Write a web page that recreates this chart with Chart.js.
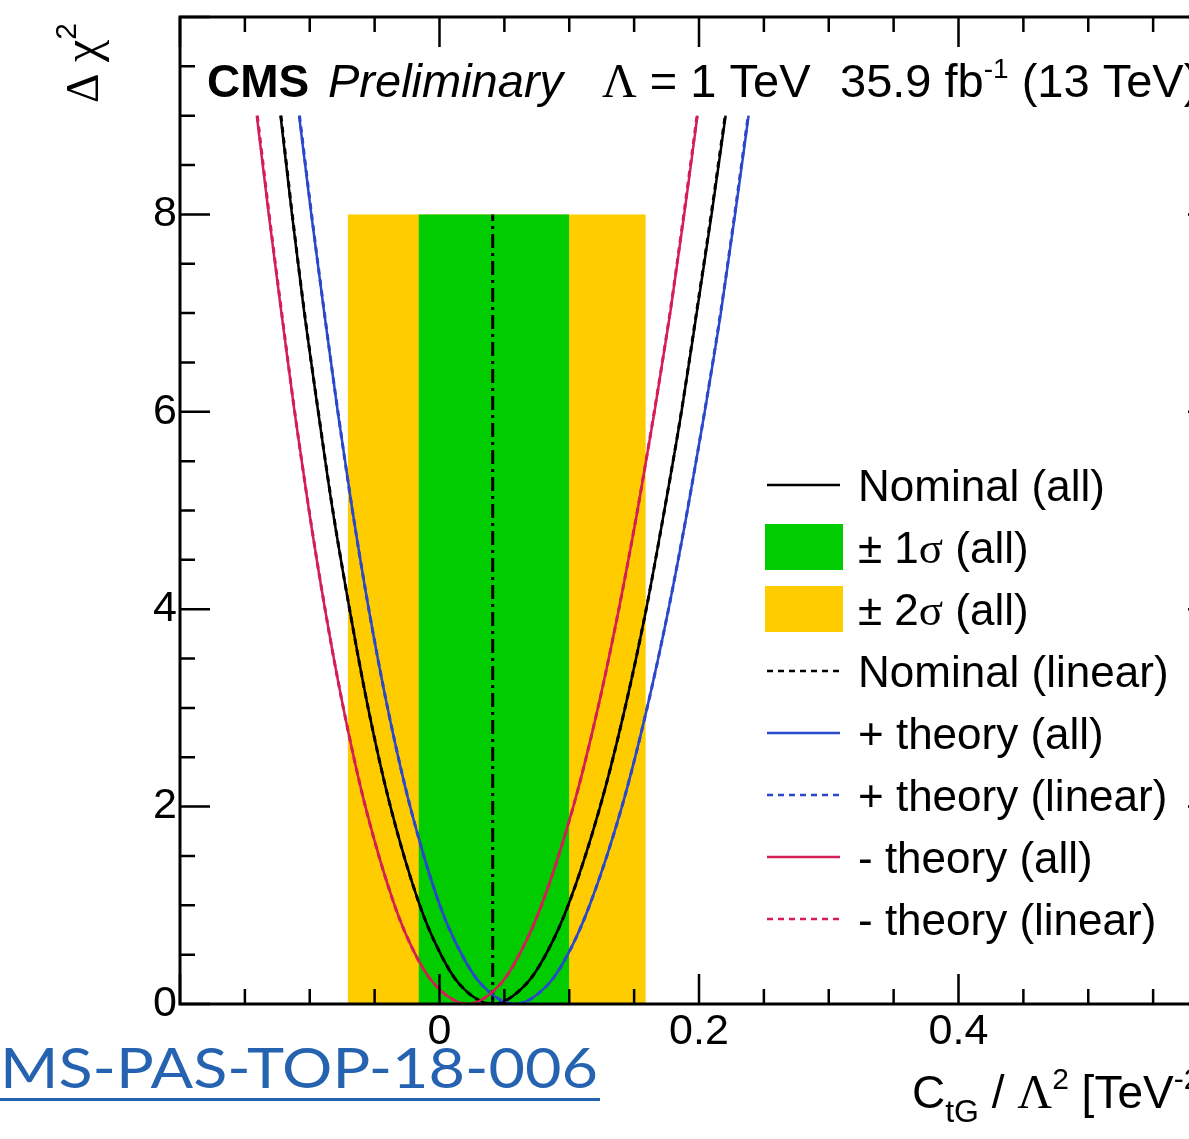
<!DOCTYPE html>
<html>
<head>
<meta charset="utf-8">
<script src="https://cdn.jsdelivr.net/npm/chart.js@4.4.1/dist/chart.umd.min.js"></script>
<style>
  html, body { margin: 0; padding: 0; background: #fff; overflow: hidden; }
  canvas { display: block; }
</style>
</head>
<body>
<canvas id="chart" width="1240" height="1139"></canvas>
<script>
// delta chi2 levels along each curve (left branch down to the minimum, then right branch up)
const dchi2 = [9, 8, 7, 6, 5, 4, 3, 2, 1, 0.5, 0.2, 0, 0.2, 0.5, 1, 2, 3, 4, 5, 6, 7, 8, 9];

// C_tG / Lambda^2 positions, one per dchi2 level
const nominalAll = [-0.1225, -0.1137, -0.1042, -0.0935, -0.0823, -0.0693, -0.055, -0.0378, -0.0152, 0.0011, 0.0154, 0.041,
  0.0666, 0.0819, 0.0992, 0.1238, 0.143, 0.1593, 0.1733, 0.1865, 0.1982, 0.2097, 0.2205];
const nominalLinear = [-0.1222, -0.1135, -0.1040, -0.0934, -0.0822, -0.0693, -0.055, -0.0378, -0.0152, 0.0011, 0.0154, 0.041,
  0.0666, 0.0819, 0.0992, 0.1238, 0.143, 0.1593, 0.1733, 0.1864, 0.1980, 0.2094, 0.2202];
const plusTheoryAll = [-0.1082, -0.0988, -0.0888, -0.0784, -0.0671, -0.0545, -0.040, -0.0226, 0.0003, 0.0172, 0.0322, 0.058,
  0.0838, 0.0988, 0.1157, 0.1406, 0.160, 0.1765, 0.1911, 0.2044, 0.2168, 0.2278, 0.2382];
const plusTheoryLinear = [-0.1079, -0.0986, -0.0887, -0.0783, -0.0671, -0.0545, -0.040, -0.0226, 0.0003, 0.0172, 0.0322, 0.058,
  0.0838, 0.0988, 0.1157, 0.1406, 0.160, 0.1765, 0.1910, 0.2043, 0.2166, 0.2275, 0.2379];
const minusTheoryAll = [-0.1408, -0.1316, -0.1218, -0.1117, -0.1006, -0.0882, -0.0741, -0.0571, -0.0346, -0.0185, -0.0038, 0.0215,
  0.0468, 0.0615, 0.0786, 0.1031, 0.1221, 0.1382, 0.1526, 0.1657, 0.1778, 0.1886, 0.1988];
const minusTheoryLinear = [-0.1404, -0.1313, -0.1216, -0.1116, -0.1005, -0.0882, -0.0741, -0.0571, -0.0346, -0.0185, -0.0038, 0.0215,
  0.0468, 0.0615, 0.0786, 0.1031, 0.1221, 0.1382, 0.1525, 0.1655, 0.1776, 0.1883, 0.1985];

// intervals and best fit
const sigma1 = [-0.0162, 0.100];
const sigma2 = [-0.0708, 0.159];
const bandTop = 8;
const bestFit = 0.041;

const legendLabels = ["Nominal (all)", "± 1σ (all)", "± 2σ (all)", "Nominal (linear)",
  "+ theory (all)", "+ theory (linear)", "- theory (all)", "- theory (linear)"];

const xRange = [-0.2, 0.6];
const yRange = [0, 10];

const SANS = '"Liberation Sans", Arial, sans-serif';
const SERIF = '"Liberation Serif", "Times New Roman", serif';
const GREEN = "#00cc00";
const YELLOW = "#ffcc00";
const RED = "#d41e55";
const BLUE = "#2a48cc";

function pts(xs) {
    return xs.map((x, i) => ({ x: x, y: dchi2[i] }));
}
function band(r) {
    return [{ x: r[0], y: 0 }, { x: r[0], y: bandTop }, { x: r[1], y: bandTop }, { x: r[1], y: 0 }];
}
function curve(label, xs, color, dashed, order) {
    return {
        label: label,
        data: pts(xs),
        borderColor: color,
        borderWidth: dashed ? 3 : 2.5,
        borderDash: dashed ? [6, 5] : [],
        cubicInterpolationMode: "monotone",
        fill: false,
        order: order
    };
}

// draws text, greek letters in a serif face like ROOT does
function drawRuns(ctx, x, y, parts) {
    for (const p of parts) {
        ctx.font = p.font;
        ctx.fillText(p.t, x, y + (p.dy || 0));
        x += ctx.measureText(p.t).width;
    }
    return x;
}
function mixed(text, size) {
    const parts = [];
    for (const ch of text) {
        const greek = /[\u0370-\u03ff]/.test(ch);
        const font = (greek ? size + 1 + "px " + SERIF : size + "px " + SANS);
        if (parts.length && parts[parts.length - 1].font === font) parts[parts.length - 1].t += ch;
        else parts.push({ t: ch, font: font });
    }
    return parts;
}

const decorations = {
    id: "decorations",
    afterDatasetsDraw(chart) {
        const ctx = chart.ctx;
        const a = chart.chartArea;
        const xs = chart.scales.x, ys = chart.scales.y;
        ctx.save();
        ctx.strokeStyle = "#000";
        ctx.lineWidth = 2.5;
        ctx.beginPath();
        xs.ticks.forEach(t => {
            const px = xs.getPixelForValue(t.value);
            const major = Math.abs(Math.round(t.value * 100)) % 20 === 0;
            const len = major ? 30 : 15;
            ctx.moveTo(px, a.bottom); ctx.lineTo(px, a.bottom - len);
            ctx.moveTo(px, a.top); ctx.lineTo(px, a.top + len);
        });
        ys.ticks.forEach(t => {
            const py = ys.getPixelForValue(t.value);
            const major = Math.round(t.value * 10) % 20 === 0;
            const len = major ? 30 : 15;
            ctx.moveTo(a.left, py); ctx.lineTo(a.left + len, py);
            ctx.moveTo(a.right, py); ctx.lineTo(a.right - len, py);
        });
        ctx.stroke();
        ctx.lineWidth = 3;
        ctx.strokeRect(a.left, a.top, a.right - a.left, a.bottom - a.top);
        ctx.restore();
    },
    afterDraw(chart) {
        const ctx = chart.ctx;
        ctx.save();
        ctx.fillStyle = "#000";
        ctx.textBaseline = "alphabetic";

        // header
        drawRuns(ctx, 207, 97, [{ t: "CMS", font: "bold 46px " + SANS }]);
        drawRuns(ctx, 328, 97, [{ t: "Preliminary", font: "italic 47px " + SANS }]);
        drawRuns(ctx, 602, 97, [{ t: "Λ", font: "48px " + SERIF }, { t: " = 1 TeV", font: "47px " + SANS }]);
        drawRuns(ctx, 840, 97, [
            { t: "35.9 fb", font: "47px " + SANS },
            { t: "-1", font: "28px " + SANS, dy: -19 },
            { t: " (13 TeV)", font: "47px " + SANS }
        ]);

        // x title
        drawRuns(ctx, 912, 1108, [
            { t: "C", font: "46px " + SANS },
            { t: "tG", font: "32px " + SANS, dy: 14 },
            { t: " / ", font: "46px " + SANS },
            { t: "Λ", font: "48px " + SERIF },
            { t: "2", font: "30px " + SANS, dy: -19 },
            { t: " [TeV", font: "46px " + SANS },
            { t: "-2", font: "30px " + SANS, dy: -19 },
            { t: "]", font: "46px " + SANS }
        ]);

        // y title
        ctx.save();
        ctx.translate(98, 103);
        ctx.rotate(-Math.PI / 2);
        drawRuns(ctx, 0, 0, [
            { t: "Δ ", font: "46px " + SERIF },
            { t: "χ", font: "50px " + SERIF },
            { t: "2", font: "30px " + SANS, dy: -22 }
        ]);
        ctx.restore();

        // legend
        const sym = [
            { kind: "line", color: "#000", dash: [] },
            { kind: "box", color: GREEN },
            { kind: "box", color: YELLOW },
            { kind: "line", color: "#000", dash: [6, 5] },
            { kind: "line", color: BLUE, dash: [] },
            { kind: "line", color: BLUE, dash: [6, 5] },
            { kind: "line", color: RED, dash: [] },
            { kind: "line", color: RED, dash: [6, 5] }
        ];
        legendLabels.forEach((lab, i) => {
            const y = 485 + i * 62;
            const s = sym[i];
            if (s.kind === "box") {
                ctx.fillStyle = s.color;
                ctx.fillRect(765, y - 23, 78, 46);
            } else {
                ctx.strokeStyle = s.color;
                ctx.lineWidth = 2.5;
                ctx.setLineDash(s.dash);
                ctx.beginPath();
                ctx.moveTo(767, y); ctx.lineTo(840, y);
                ctx.stroke();
                ctx.setLineDash([]);
            }
            ctx.fillStyle = "#000";
            drawRuns(ctx, 858, y + 16, mixed(lab, 44));
        });

        // document reference below the plot (cut at the left edge like the slide)
        const ref = "CMS-PAS-TOP-18-006";
        ctx.fillStyle = "#2563b0";
        ctx.font = "56px Lato, " + SANS;
        const k = 598 / ctx.measureText(ref.slice(1)).width;
        ctx.save();
        ctx.translate(598, 1088);
        ctx.scale(k, 1);
        ctx.textAlign = "right";
        ctx.fillText(ref, 0, 0);
        ctx.restore();
        ctx.fillRect(0, 1098, 600, 3);
        ctx.restore();
    }
};

const ctx = document.getElementById("chart").getContext("2d");
new Chart(ctx, {
    type: "line",
    data: {
        datasets: [
            { label: "±2σ", data: band(sigma2), backgroundColor: YELLOW, borderColor: "transparent", borderWidth: 0, fill: "origin", order: 100 },
            { label: "±1σ", data: band(sigma1), backgroundColor: GREEN, borderColor: "transparent", borderWidth: 0, fill: "origin", order: 90 },
            { label: "best fit", data: [{ x: bestFit, y: 0 }, { x: bestFit, y: bandTop }], borderColor: "#000", borderWidth: 3,
              borderDash: [14, 5, 3, 5], fill: false, order: 80 },
            curve("Nominal (all)", nominalAll, "#000", false, 20),
            curve("Nominal (linear)", nominalLinear, "#000", true, 19),
            curve("+ theory (all)", plusTheoryAll, BLUE, false, 18),
            curve("+ theory (linear)", plusTheoryLinear, BLUE, true, 17),
            curve("- theory (all)", minusTheoryAll, RED, false, 16),
            curve("- theory (linear)", minusTheoryLinear, RED, true, 15)
        ]
    },
    options: {
        responsive: false,
        animation: false,
        elements: { point: { radius: 0 } },
        layout: { padding: { left: 0, right: 22, top: 17, bottom: 0 } },
        plugins: { legend: { display: false }, tooltip: { enabled: false } },
        scales: {
            x: {
                type: "linear",
                min: xRange[0],
                max: xRange[1],
                grid: { display: false, drawTicks: false },
                border: { display: false },
                ticks: {
                    stepSize: 0.05,
                    autoSkip: false,
                    maxRotation: 0,
                    padding: 2,
                    color: "#000",
                    font: { family: SANS, size: 43 },
                    callback: v => {
                        const k = Math.round(v * 100);
                        return (k % 20 === 0 && k >= 0 && k < 60) ? String(k / 100) : "";
                    }
                },
                afterFit: s => { s.height = 135; s.paddingLeft = 0; s.paddingRight = 0; }
            },
            y: {
                min: yRange[0],
                max: yRange[1],
                grid: { display: false, drawTicks: false },
                border: { display: false },
                ticks: {
                    stepSize: 0.5,
                    autoSkip: false,
                    padding: 3,
                    color: "#000",
                    font: { family: SANS, size: 43 },
                    callback: v => (v % 2 === 0 && v < 10) ? String(v) : ""
                },
                afterFit: s => { s.width = 180; s.paddingTop = 0; s.paddingBottom = 0; }
            }
        }
    },
    plugins: [decorations]
});
</script>
</body>
</html>
